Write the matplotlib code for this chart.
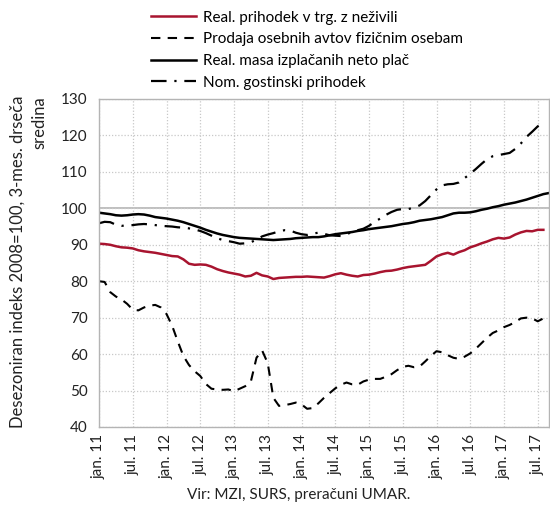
import matplotlib
matplotlib.use("Agg")
import matplotlib.pyplot as plt
import numpy as np

plt.rcParams['font.family'] = ['Lato', 'DejaVu Sans']

# monthly data, jan 2011 = index 0
red_trg = [90.3, 90.2, 90.0, 89.6, 89.3, 89.2, 89.0, 88.5, 88.2, 88.0, 87.8, 87.5,
           87.2, 86.9, 86.8, 86.0, 84.8, 84.5, 84.6, 84.5, 84.0, 83.3, 82.8, 82.4,
           82.1, 81.8, 81.3, 81.5, 82.3, 81.6, 81.3, 80.6, 80.9, 81.0, 81.1, 81.2,
           81.2, 81.3, 81.2, 81.1, 81.0, 81.4, 81.9, 82.2, 81.8, 81.5, 81.3, 81.7,
           81.8, 82.1, 82.5, 82.8, 82.9, 83.2, 83.6, 83.9, 84.1, 84.3, 84.5, 85.6,
           86.8, 87.4, 87.8, 87.3, 88.0, 88.5, 89.3, 89.8, 90.4, 90.9, 91.5, 91.9,
           91.7, 92.0, 92.8, 93.4, 93.8, 93.7, 94.1, 94.1]

avti = [80.0, 79.8, 77.0, 75.8, 75.0, 73.8, 72.2, 72.0, 72.8, 73.3, 73.5, 72.8,
        71.0, 67.8, 63.5, 59.5, 57.0, 55.3, 54.0, 51.8, 50.5, 50.3, 50.2, 50.3,
        49.8, 50.5, 51.2, 52.5, 59.0, 61.0, 57.5, 48.0, 45.8, 46.0, 46.3, 46.7,
        46.2, 45.0, 45.2, 46.5, 48.0, 49.3, 50.6, 51.6, 52.2, 51.7, 51.6, 52.5,
        53.0, 53.2, 53.2, 53.8, 54.5, 55.6, 56.5, 56.8, 56.4, 56.6, 58.0, 59.5,
        60.8, 60.5, 59.7, 59.0, 58.7, 59.3, 60.2, 61.5, 63.0, 64.5, 65.8, 66.5,
        67.4, 68.0, 68.8, 69.8, 70.0, 69.8, 69.0, 69.8, 70.3]

place = [98.8, 98.6, 98.4, 98.1, 98.0, 98.1, 98.3, 98.4, 98.3, 98.0, 97.6, 97.4,
         97.2, 96.9, 96.6, 96.2, 95.7, 95.2, 94.7, 94.1, 93.6, 93.1, 92.7, 92.4,
         92.1, 91.9, 91.8, 91.7, 91.6, 91.5, 91.4, 91.3, 91.4, 91.5, 91.6, 91.8,
         91.9, 92.0, 92.1, 92.1, 92.3, 92.6, 92.9, 93.1, 93.3, 93.5, 93.8, 94.0,
         94.3, 94.5, 94.7, 94.9, 95.1, 95.4, 95.7, 95.9, 96.2, 96.6, 96.8, 97.0,
         97.3, 97.6, 98.1, 98.6, 98.8, 98.8, 98.9, 99.2, 99.6, 99.9, 100.3, 100.6,
         101.0, 101.3, 101.6, 102.0, 102.4, 102.9, 103.4, 103.9, 104.2]

gostinski = [95.9, 96.3, 96.2, 95.5, 95.2, 95.3, 95.4, 95.6, 95.7, 95.6, 95.4, 95.2,
             95.1, 95.0, 94.8, 94.7, 94.5, 94.2, 93.8, 93.2, 92.5, 91.8, 91.3, 91.0,
             90.7, 90.3, 90.4, 90.7, 91.4, 92.3, 92.8, 93.2, 93.7, 94.0, 93.9, 93.3,
             92.9, 92.7, 93.1, 93.3, 93.0, 92.6, 92.5, 92.4, 92.9, 93.5, 94.0, 94.4,
             95.2, 96.3, 97.2, 98.2, 99.0, 99.6, 99.8, 99.8, 100.2, 100.8, 102.0, 103.6,
             105.2, 106.3, 106.6, 106.7, 107.1, 108.3, 109.5, 110.8, 112.2, 113.5, 114.3, 114.6,
             114.9, 115.2, 116.3, 117.8, 119.6, 121.0, 122.5, 123.4]

tick_labels = ["jan. 11", "jul. 11", "jan. 12", "jul. 12", "jan. 13", "jul. 13", "jan. 14",
               "jul. 14", "jan. 15", "jul. 15", "jan. 16", "jul. 16", "jan. 17", "jul. 17"]

RED = "#A8142F"
GRID = "#c8c8c8"

fig = plt.figure(figsize=(5.5, 5.09), dpi=100)
ax = fig.add_axes([99/550, 1 - 427/509, 450/550, 328/509])

l1, = ax.plot(np.arange(len(red_trg)), red_trg, color=RED, lw=1.8,
              label="Real. prihodek v trg. z neživili")
l2, = ax.plot(np.arange(len(avti)), avti, color="black", lw=1.5, ls=(0, (4.5, 3.5)),
              label="Prodaja osebnih avtov fizičnim osebam")
l3, = ax.plot(np.arange(len(place)), place, color="black", lw=1.8,
              label="Real. masa izplačanih neto plač")
l4, = ax.plot(np.arange(len(gostinski)), gostinski, color="black", lw=1.6,
              ls=(0, (7, 3.5, 1, 3.5)), label="Nom. gostinski prihodek")

ax.set_xlim(0, 80)
ax.set_ylim(40, 130)
ax.set_yticks(np.arange(40, 131, 10))
ax.set_xticks(np.arange(0, 80, 6))
ax.set_xticklabels(tick_labels, rotation=90)
ax.tick_params(axis='both', length=0, labelsize=11, colors="#222222")
ax.tick_params(axis='x', pad=5)
ax.tick_params(axis='y', pad=8)

ax.grid(True, color=GRID, ls=(0, (1, 1.5)), lw=0.9)
ax.axhline(100, color="#b4b4b4", lw=1.2, zorder=1)
for s in ax.spines.values():
    s.set_color("#b4b4b4")
    s.set_linewidth(1.0)

# y-axis title: two lines, ends aligned at the top
fig.text(29/550, 1 - 96/509, "Desezoniran indeks 2008=100, 3-mes. drseča\nsredina",
         rotation=90, ha='center', va='top', multialignment='right',
         fontsize=12, color="#222222", linespacing=1.45)

fig.legend(handles=[l1, l2, l3, l4], loc='upper left',
           bbox_to_anchor=(143/550, 1 - 3/509), frameon=False, fontsize=11,
           borderpad=0, handlelength=3.0, handletextpad=0.4, labelspacing=0.5)

fig.text(0.5 + 24/550, 1 - 495/509, "Vir: MZI, SURS, preračuni UMAR.", fontsize=11,
         ha='center', va='center', color="#222222")

fig.savefig("out.png", dpi=100)
